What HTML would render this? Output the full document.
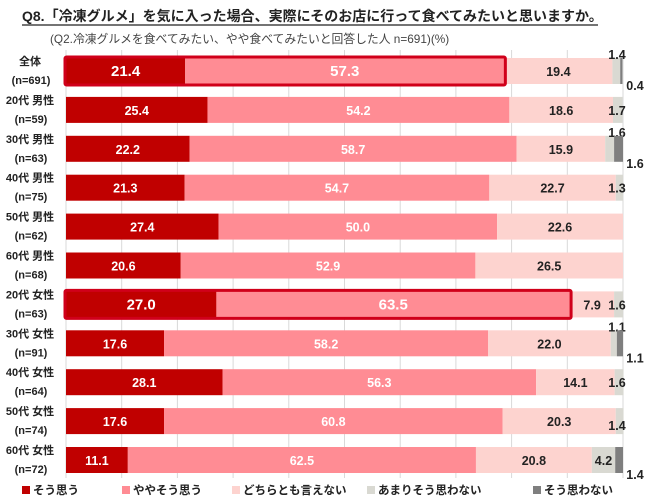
<!DOCTYPE html>
<html><head><meta charset="utf-8">
<style>
html,body{margin:0;padding:0;background:#fff;}
svg{display:block;font-family:"Liberation Sans","Noto Sans CJK JP",sans-serif;}
</style></head>
<body>
<svg id="chart" width="650" height="501" viewBox="0 0 650 501">
<text x="22" y="21" font-size="14" font-weight="bold" fill="#222">Q8.「冷凍グルメ」を気に入った場合、実際にそのお店に行って食べてみたいと思いますか。</text>
<line x1="22" y1="25" x2="598" y2="25" stroke="#222" stroke-width="1.2"/>
<text x="50" y="43" font-size="11.8" fill="#444">(Q2.冷凍グルメを食べてみたい、やや食べてみたいと回答した人 n=691)(%)</text>
<g id="grid"></g><g id="bars"></g><g id="legend"></g>
</svg>
<script>
const categories = ["全体","20代 男性","30代 男性","40代 男性","50代 男性","60代 男性","20代 女性","30代 女性","40代 女性","50代 女性","60代 女性"];
const sampleSizes = ["(n=691)","(n=59)","(n=63)","(n=75)","(n=62)","(n=68)","(n=63)","(n=91)","(n=64)","(n=74)","(n=72)"];
const seriesNames = ["そう思う","ややそう思う","どちらとも言えない","あまりそう思わない","そう思わない"];
const s1 = [21.4,25.4,22.2,21.3,27.4,20.6,27.0,17.6,28.1,17.6,11.1];
const s2 = [57.3,54.2,58.7,54.7,50.0,52.9,63.5,58.2,56.3,60.8,62.5];
const s3 = [19.4,18.6,15.9,22.7,22.6,26.5,7.9,22.0,14.1,20.3,20.8];
const s4 = [1.4,1.7,1.6,1.3,0,0,1.6,1.1,1.6,1.4,4.2];
const s5 = [0.4,0,1.6,0,0,0,0,1.1,0,0,1.4];
const highlighted = [0,6];

const colors=["#c00000","#ff8c94","#fdd3cf","#d9d9d2","#7f7f7f"];
const X0=66,W=557,ROW0=71,STEP=38.9,BH=26;
const xs=v=>X0+v/100*W;
const yc=i=>ROW0+i*STEP;
const NS="http://www.w3.org/2000/svg";
function mk(tag,attrs,parent,txt){const e=document.createElementNS(NS,tag);for(const k in attrs)e.setAttribute(k,attrs[k]);if(txt!==undefined)e.textContent=txt;parent.appendChild(e);return e;}
const grid=document.getElementById('grid'),bars=document.getElementById('bars'),leg=document.getElementById('legend');
for(let t=0;t<=100;t+=10){
 const l=mk('line',{x1:xs(t),x2:xs(t),y1:50,y2:478,stroke:'#d9d9d9','stroke-width':1},grid);
 
 
}
const series=[s1,s2,s3,s4,s5];
categories.forEach((c,i)=>{
 const y=yc(i);const hl=highlighted.includes(i);
 const t1=mk('text',{x:30,y:y-6,'font-size':11,'font-weight':'bold','text-anchor':'middle',fill:'#222'},bars,c);
 
 
 const t2=mk('text',{x:31,y:y+13,'font-size':11,'font-weight':'bold','text-anchor':'middle',fill:'#222'},bars,sampleSizes[i]);
 
 
 let cum=0;
 series.forEach((s,k)=>{
  const v=s[i];if(v<=0)return;
  const r=mk('rect',{x:xs(cum),y:y-BH/2,width:xs(cum+v)-xs(cum),height:BH,fill:colors[k]},bars);
  
  
  const mid=(xs(cum)+xs(cum+v))/2;
  let lx=mid,ly=y+5,fill=k<2?'#fff':'#222',fs=hl&&k<2?15:12.5;
  if(k==3){ if(v>3){lx=mid;} else if(s5[i]>0){lx=617;ly=y-12;} else {lx=617;ly=y+5+(i==9?4:0);} }
  if(k==4){lx=635;ly=y+19;}
  const tl=mk('text',{x:lx,y:ly,'font-size':fs,'font-weight':'bold','text-anchor':'middle',fill:fill},bars,v.toFixed(1));
  
  
  cum+=v;
 });
 if(hl){
  const o=mk('rect',{x:X0-1,y:y-BH/2-1,width:xs(s1[i]+s2[i])-X0+2,height:BH+2,fill:'none',stroke:'#d0001a','stroke-width':3,rx:1.5},bars);
  
  
 }
});
const lx=[22,122,232,367,533];
seriesNames.forEach((n,k)=>{
 const r=mk('rect',{x:lx[k],y:486,width:8,height:8,fill:colors[k]},leg);
 
 
 const t=mk('text',{x:lx[k]+11,y:494,'font-size':11.5,'font-weight':'bold',fill:'#222'},leg,n);
 
 
});
</script>
</body></html>
